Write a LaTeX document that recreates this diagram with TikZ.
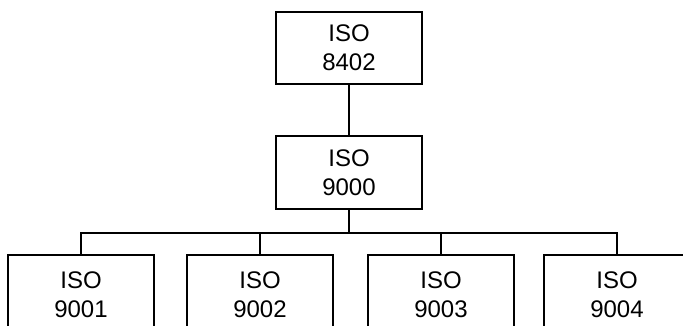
\documentclass[tikz,border=0pt]{standalone}
\usepackage{fontspec}
\setmainfont{Liberation Sans}
\begin{document}
\begin{tikzpicture}[x=1pt,y=-1pt,
  isobox/.style={draw, line width=1.4pt, rectangle, minimum width=146pt,
    align=center, inner sep=0pt, font=\fontsize{24}{29}\selectfont},
  link/.style={line width=1.4pt}]
  \useasboundingbox (0,0) rectangle (683,326);
  \clip (0,0) rectangle (683,326);
  % upper levels of the tree
  \node[isobox, minimum height=72pt] (top) at (349,48) {ISO\\8402};
  \node[isobox, minimum height=73pt] (mid) at (349,172.5) {ISO\\9000};
  % four bottom boxes, partly cut off by the page edge
  \node[isobox, minimum height=80pt] (b1) at (81,295) {ISO\\9001};
  \node[isobox, minimum height=80pt] (b2) at (260,295) {ISO\\9002};
  \node[isobox, minimum height=80pt] (b3) at (441,295) {ISO\\9003};
  \node[isobox, minimum height=80pt] (b4) at (617,295) {ISO\\9004};
  % connectors
  \coordinate (bus) at (349,233);
  \draw[link] (top.south) -- (mid.north);
  \draw[link] (mid.south) -- (bus);
  \draw[link] (b1.north) -- (b1.north |- bus) -- (b4.north |- bus) -- (b4.north);
  \draw[link] (b2.north) -- (b2.north |- bus);
  \draw[link] (b3.north) -- (b3.north |- bus);
\end{tikzpicture}
\end{document}
